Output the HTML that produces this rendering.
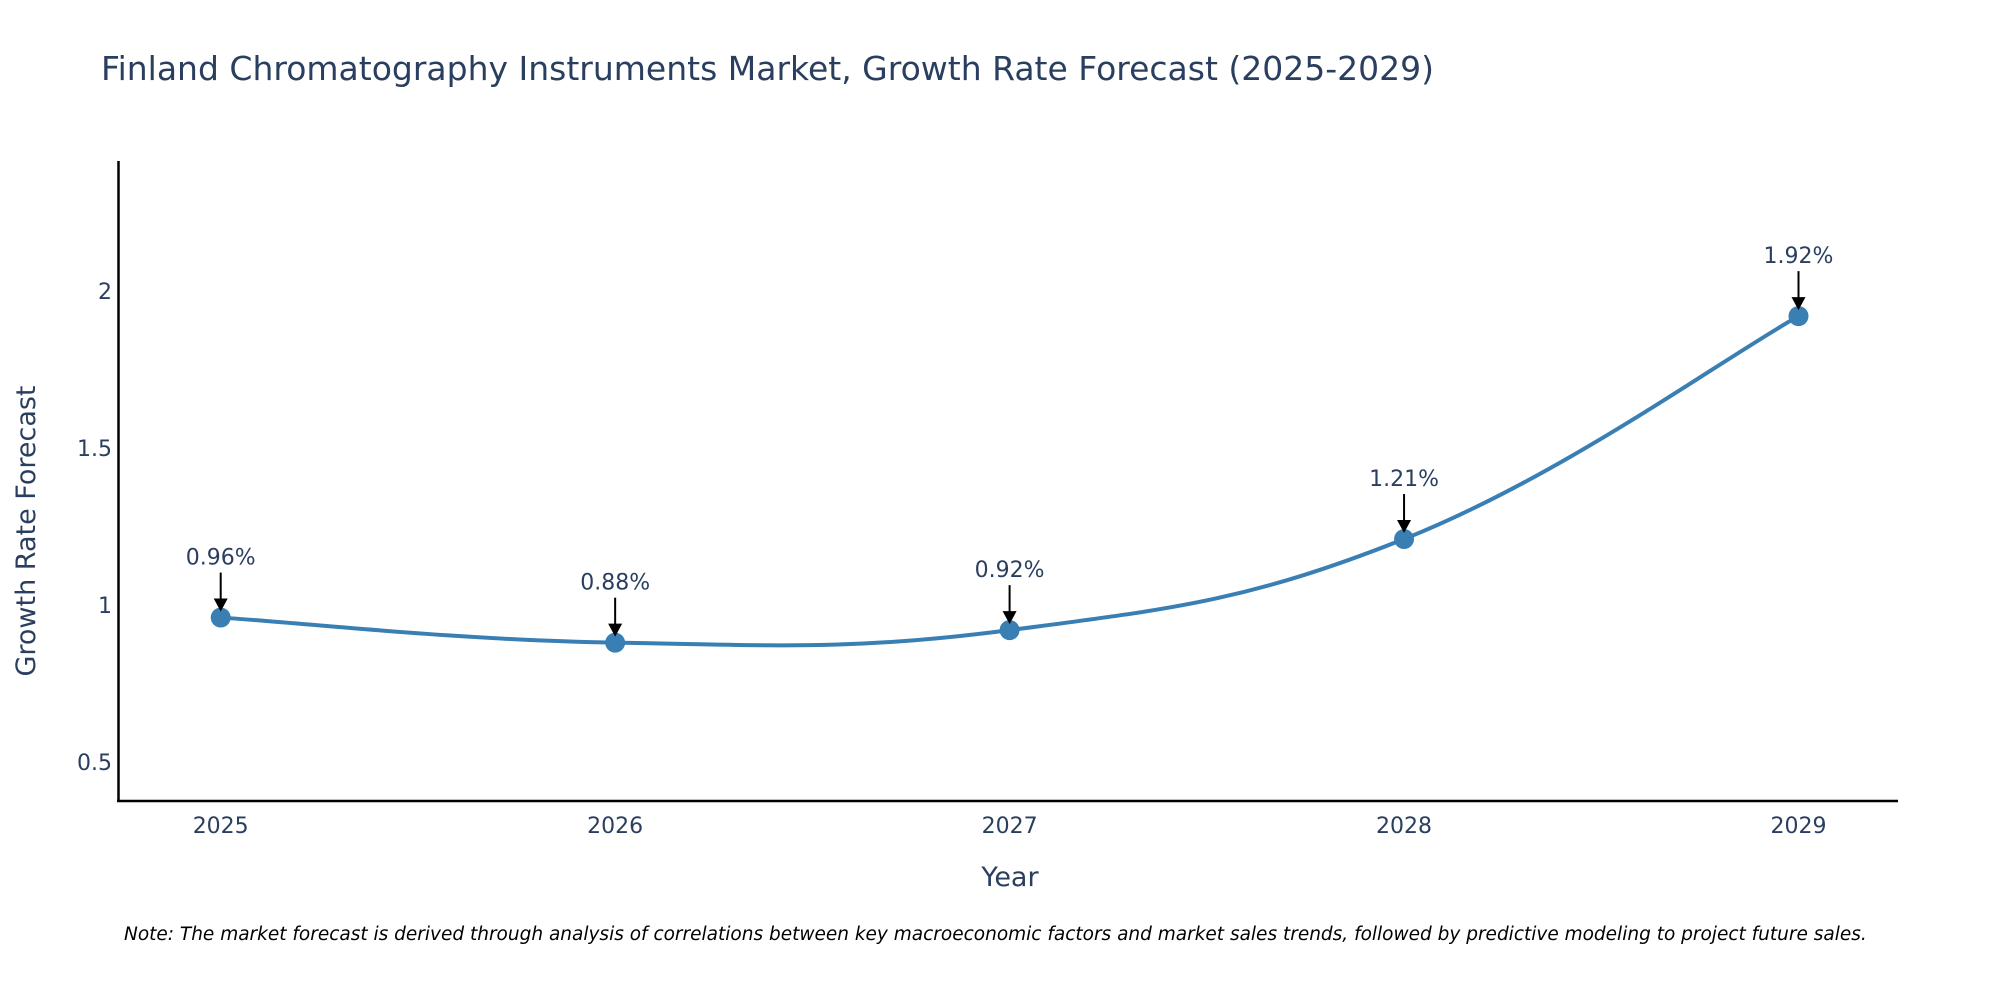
<!DOCTYPE html>
<html><head><meta charset="utf-8"><style>
body{margin:0;background:#fff;}
svg{display:block;font-family:"DejaVu Sans","Liberation Sans",sans-serif;}
</style></head><body>
<svg id="chart" width="2000" height="1000" viewBox="0 0 2000 1000">
<text x="101" y="80" font-size="33" fill="#2a3f5f">Finland Chromatography Instruments Market, Growth Rate Forecast (2025-2029)</text>
<g id="yticks"></g>
<g id="xticks"></g>
<line x1="118.5" y1="161" x2="118.5" y2="802" stroke="#000" stroke-width="2.5"/>
<line x1="117" y1="801" x2="1898" y2="801" stroke="#000" stroke-width="2.5"/>
<text x="1010" y="886" font-size="27" fill="#2a3f5f" text-anchor="middle">Year</text>
<text transform="translate(35,531) rotate(-90)" font-size="27" fill="#2a3f5f" text-anchor="middle">Growth Rate Forecast</text>
<g id="series"></g>
<text x="124" y="940" font-size="18.5" font-style="italic" fill="#000">Note: The market forecast is derived through analysis of correlations between key macroeconomic factors and market sales trends, followed by predictive modeling to project future sales.</text>
</svg>
<script>
const years = [2025, 2026, 2027, 2028, 2029];
const growth = [0.96, 0.88, 0.92, 1.21, 1.92];
const labels = ["0.96%", "0.88%", "0.92%", "1.21%", "1.92%"];
const yTickVals = [0.5, 1, 1.5, 2];
const yTickLabels = ["0.5", "1", "1.5", "2"];

const NS = "http://www.w3.org/2000/svg";
function xS(v){ return 220.7 + (v - 2025) * 394.45; }
function yS(v){ return 605 - (v - 1) * 314; }
function mk(tag, attrs, parent, txt){
  const e = document.createElementNS(NS, tag);
  for (const k in attrs) e.setAttribute(k, attrs[k]);
  if (txt !== undefined) e.textContent = txt;
  parent.appendChild(e); return e;
}
const yt = document.getElementById('yticks');
yTickVals.forEach((v, i) => {
  const t = mk('text', {x: 112, y: yS(v) + 8, 'font-size': 22, fill: '#2a3f5f', 'text-anchor': 'end'}, yt, yTickLabels[i]);
  
  
});
const xt = document.getElementById('xticks');
years.forEach(y => {
  const t = mk('text', {x: xS(y), y: 833, 'font-size': 22, fill: '#2a3f5f', 'text-anchor': 'middle'}, xt, String(y));
  
  
});
const g = document.getElementById('series');
const pts = years.map((y, i) => [xS(y), yS(growth[i])]);
let d = `M${pts[0][0]},${pts[0][1]}`;
const s = 0.2;
for (let i = 0; i < pts.length - 1; i++) {
  const p0 = pts[Math.max(0, i - 1)], p1 = pts[i], p2 = pts[i + 1], p3 = pts[Math.min(pts.length - 1, i + 2)];
  const c1 = [p1[0] + (p2[0] - p0[0]) * s, p1[1] + (p2[1] - p0[1]) * s];
  const c2 = [p2[0] - (p3[0] - p1[0]) * s, p2[1] - (p3[1] - p1[1]) * s];
  d += ` C${c1[0]},${c1[1]} ${c2[0]},${c2[1]} ${p2[0]},${p2[1]}`;
}
const line = mk('path', {d: d, fill: 'none', stroke: '#3a7fb4', 'stroke-width': 4}, g);


pts.forEach((p, i) => {
  const c = mk('circle', {cx: p[0], cy: p[1], r: 10, fill: '#3a7fb4'}, g);
  
  
  const a = mk('line', {x1: p[0], y1: p[1] - 45, x2: p[0], y2: p[1] - 16, stroke: '#000', 'stroke-width': 2}, g);
  
  
  const h = mk('path', {d: `M${p[0]-7},${p[1]-19} L${p[0]+7},${p[1]-19} L${p[0]},${p[1]-6} Z`, fill: '#000'}, g);
  
  
  const t = mk('text', {x: p[0], y: p[1] - 53, 'font-size': 22, fill: '#2a3f5f', 'text-anchor': 'middle'}, g, labels[i]);
  
  
});
</script>
</body></html>
